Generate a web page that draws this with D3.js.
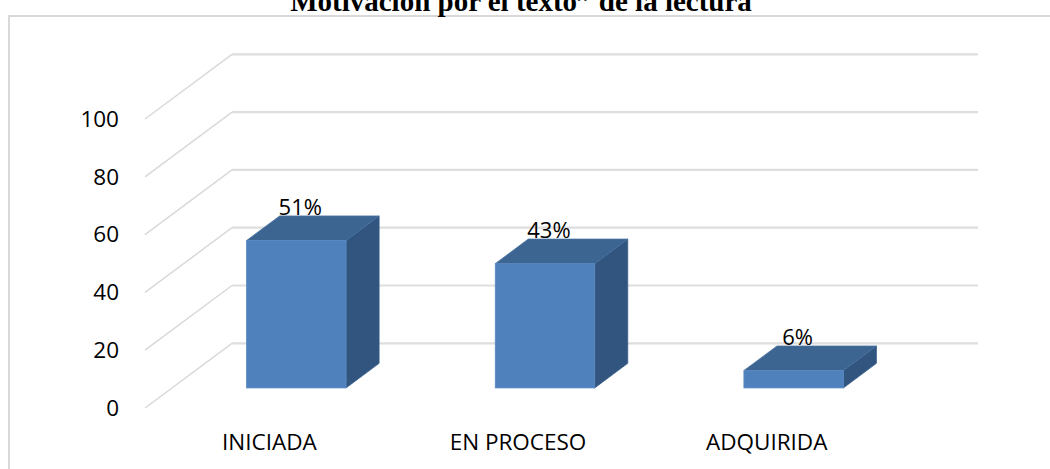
<!DOCTYPE html>
<html lang="es">
<head>
    <meta charset="UTF-8">
    <title>Motivación por el texto de la lectura</title>
    <script src="https://d3js.org/d3.v7.min.js"></script>
    <style>
        body { margin: 0; background: #fff; }
        text { font-family: "Open Sans", sans-serif; fill: #000; }
    </style>
</head>
<body>
    <script>

        var categories = ['INICIADA', 'EN PROCESO', 'ADQUIRIDA']
        var values = [51, 43, 6]
        var valueLabels = ['51%', '43%', '6%']
        var yTicks = [0, 20, 40, 60, 80, 100]

        var w = 1050, h = 469
        // oblique depth of the 3d box
        var DX = 87, DY = -64.7
        var f1 = 0.31, f2 = 0.69

        var svg = d3.select('body')
                    .append('svg')
                    .attr('width', w)
                    .attr('height', h)

        // chart frame
        svg.append('rect')
            .attr('x', 9).attr('y', 16)
            .attr('width', w + 10).attr('height', h + 10)
            .attr('fill', 'none')
            .attr('stroke', '#d9d9d9')
            .attr('stroke-width', 2)

        // title (its top is cut off, as in the original)
        svg.append('text')
            .attr('x', 521)
            .attr('y', 10.5)
            .attr('text-anchor', 'middle')
            .style('font-family', '"Liberation Serif", "Times New Roman", serif')
            .style('font-weight', 'bold')
            .style('font-size', '29px')
            .text('Motivación por el texto\u201d de la lectura')

        //scales

        var xScale = d3.scaleBand()
                        .domain(categories)
                        .range([145, 891])

        var yScale = d3.scaleLinear()
                        .domain([0, 100])
                        .range([408, 119])

        // gridlines: diagonal on the side wall, then horizontal on the back wall
        var grid = svg.append('g')
        grid.selectAll('path.diag')
            .data(yTicks)
            .enter()
            .append('path')
            .attr('d', d => 'M' + xScale.range()[0] + ',' + yScale(d) + 'L' + (xScale.range()[0] + DX) + ',' + (yScale(d) + DY))
            .attr('stroke', '#d9d9d9')
            .attr('stroke-width', 1.5)
            .attr('fill', 'none')

        grid.selectAll('path.back')
            .data(yTicks)
            .enter()
            .append('path')
            .attr('d', d => 'M' + (xScale.range()[0] + DX) + ',' + (yScale(d) + DY) + 'L' + (xScale.range()[1] + DX) + ',' + (yScale(d) + DY))
            .attr('stroke', '#dedede')
            .attr('stroke-width', 2.2)
            .attr('fill', 'none')

        // y axis labels
        var axisy = d3.axisLeft(yScale).tickValues(yTicks).tickSize(0).tickPadding(26)
        var gy = svg.append('g')
            .attr('transform', 'translate(' + xScale.range()[0] + ',0)')
            .call(axisy)
        gy.select('.domain').remove()
        gy.selectAll('text')
            .style('font-family', '"Open Sans", sans-serif')
            .style('font-size', '22.5px')
            .attr('fill', '#000')

        // x axis labels
        var axisx = d3.axisBottom(xScale).tickSize(0).tickPadding(0)
        var gx = svg.append('g')
            .attr('transform', 'translate(0,' + yScale(0) + ')')
            .call(axisx)
        gx.select('.domain').remove()
        gx.selectAll('text')
            .attr('y', 42)
            .attr('dy', 0)
            .style('font-family', '"Open Sans", sans-serif')
            .style('font-size', '22.5px')
            .attr('fill', '#000')

        // bars
        var bw = xScale.bandwidth() * 0.4
        var ddx = (f2 - f1) * DX, ddy = (f2 - f1) * DY

        var bars = svg.selectAll('g.bar')
            .data(values)
            .enter()
            .append('g')
            .attr('class', 'bar')

        function front(d, i) {
            var x0 = xScale(categories[i]) + xScale.bandwidth() / 2 - bw / 2 + f1 * DX
            return { x0: x0, x1: x0 + bw, top: yScale(d) + f1 * DY, bot: yScale(0) + f1 * DY }
        }

        bars.append('path')
            .attr('d', (d, i) => {
                var f = front(d, i)
                return 'M' + f.x1 + ',' + f.top + 'L' + f.x1 + ',' + f.bot +
                    'L' + (f.x1 + ddx) + ',' + (f.bot + ddy) + 'L' + (f.x1 + ddx) + ',' + (f.top + ddy) + 'Z'
            })
            .attr('fill', '#325580')
            .attr('stroke', '#3a5f8c')
            .attr('stroke-width', 0.8)

        bars.append('path')
            .attr('d', (d, i) => {
                var f = front(d, i)
                return 'M' + f.x0 + ',' + f.top + 'L' + f.x1 + ',' + f.top +
                    'L' + (f.x1 + ddx) + ',' + (f.top + ddy) + 'L' + (f.x0 + ddx) + ',' + (f.top + ddy) + 'Z'
            })
            .attr('fill', '#3d6591')
            .attr('stroke', '#46709f')
            .attr('stroke-width', 0.8)

        bars.append('rect')
            .attr('x', (d, i) => front(d, i).x0)
            .attr('y', (d, i) => front(d, i).top)
            .attr('width', bw)
            .attr('height', (d, i) => front(d, i).bot - front(d, i).top)
            .attr('fill', '#4f81bd')
            .attr('stroke', '#5a8ac3')
            .attr('stroke-width', 0.8)

        // value labels
        bars.append('text')
            .attr('x', (d, i) => front(d, i).x0 + bw / 2 + 4)
            .attr('y', (d, i) => front(d, i).top + ddy - 1)
            .attr('text-anchor', 'middle')
            .style('font-size', '22px')
            .text((d, i) => valueLabels[i])

    </script>
</body>
</html>
